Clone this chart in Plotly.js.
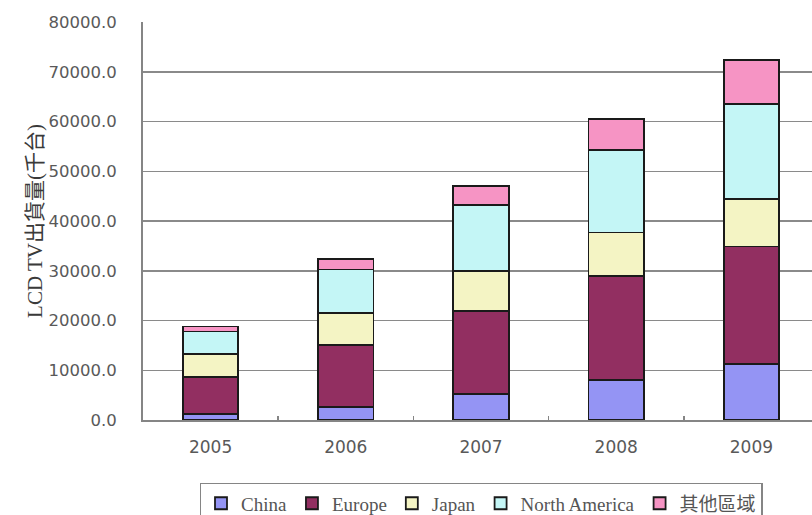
<!DOCTYPE html>
<html>
<head>
<meta charset="utf-8">
<script src="https://cdn.plot.ly/plotly-3.0.1.min.js"></script>
<style>
html,body{margin:0;padding:0;overflow:hidden;background:#fff;}
#chart{width:840px;height:530px;}
</style>
</head>
<body>
<div id="chart"></div>
<script>
const years = ['2005', '2006', '2007', '2008', '2009'];
const seriesNames = ['China', 'Europe', 'Japan', 'North America', '其他區域'];
const china = [1280, 2550, 5250, 8080, 11310];
const europe = [7380, 12550, 16690, 20860, 23550];
const japan = [4560, 6440, 8010, 8750, 9550];
const northAmerica = [4570, 8730, 13190, 16550, 19050];
const other = [1000, 2080, 3830, 6190, 8950];
const yTicks = [0, 10000, 20000, 30000, 40000, 50000, 60000, 70000, 80000];
const colors = ['#9494F4', '#922F61', '#F4F4C4', '#C4F6F6', '#F694C4'];

const values = [china, europe, japan, northAmerica, other];
const traces = values.map((v, i) => ({
  type: 'bar',
  name: seriesNames[i],
  x: years,
  y: v,
  marker: {color: colors[i], line: {color: '#1a1a1a', width: 1.8}},
  hoverinfo: 'skip'
}));

const layout = {
  width: 840,
  height: 530,
  margin: {l: 143, r: 21, t: 22, b: 110, autoexpand: false},
  paper_bgcolor: '#ffffff',
  plot_bgcolor: '#ffffff',
  barmode: 'stack',
  bargap: 0.59,
  font: {family: 'DejaVu Sans, sans-serif', color: '#595959'},
  xaxis: {
    type: 'category',
    showline: true,
    linecolor: '#858585',
    linewidth: 2,
    ticks: 'inside',
    tickson: 'boundaries',
    ticklen: 4,
    tickcolor: '#858585',
    tickwidth: 1.5,
    showgrid: false,
    tickfont: {family: 'DejaVu Sans, sans-serif', size: 17, color: '#595959'},
    ticklabelstandoff: 11,
    fixedrange: true
  },
  yaxis: {
    range: [0, 80000],
    tickmode: 'array',
    tickvals: yTicks,
    ticktext: yTicks.map(v => v.toFixed(1)),
    showline: true,
    linecolor: '#858585',
    linewidth: 2,
    showgrid: true,
    gridcolor: '#8a8a8a',
    gridwidth: 1.5,
    zeroline: false,
    ticks: '',
    tickfont: {family: 'DejaVu Sans, sans-serif', size: 16.5, color: '#595959'},
    ticklabelstandoff: 21,
    title: {
      text: 'LCD TV出貨量(千台)',
      font: {family: 'Liberation Serif, Noto Sans CJK TC, serif', size: 21, color: '#3a3a3a'},
      standoff: 0
    },
    automargin: false,
    fixedrange: true
  },
  legend: {
    orientation: 'h',
    x: 0.5,
    xanchor: 'center',
    y: -0.158,
    yanchor: 'top',
    traceorder: 'normal',
    bordercolor: '#858585',
    borderwidth: 1.5,
    font: {family: 'Liberation Serif, Noto Sans CJK TC, serif', size: 19, color: '#555555'}
  },
  showlegend: true
};

Plotly.newPlot('chart', traces, layout, {displayModeBar: false, staticPlot: true});
</script>
</body>
</html>
